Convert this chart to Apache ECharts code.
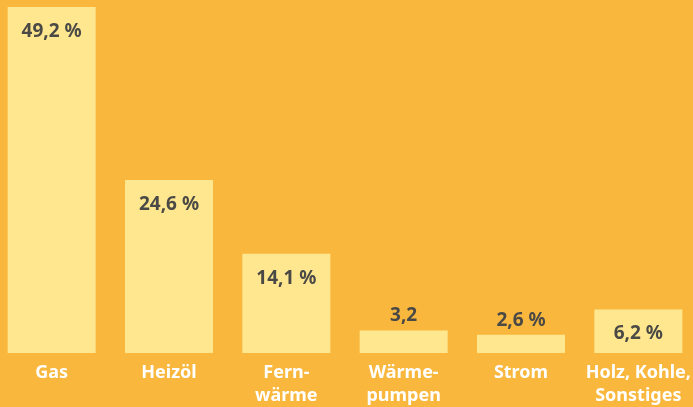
<!DOCTYPE html>
<html lang="de">
<head>
    <meta charset="UTF-8">
    <title>Beheizungsstruktur</title>
    <script src="https://cdn.jsdelivr.net/npm/echarts@6/dist/echarts.min.js"></script>
    <style>
        html, body { margin: 0; padding: 0; background: #F9B83D; overflow: hidden; }
        #main { position: absolute; left: -7px; top: 0; width: 704px; height: 407px; }
    </style>
</head>
<body>
<div id="main"></div>
<script type="text/javascript">
    // Anteile in Prozent
    var categories = ['Gas', 'Heizöl', 'Fern-\nwärme', 'Wärme-\npumpen', 'Strom', 'Holz, Kohle,\nSonstiges'];
    var values = [49.2, 24.6, 14.1, 3.2, 2.6, 6.2];
    var valueLabels = ['49,2 %', '24,6 %', '14,1 %', '3,2', '2,6 %', '6,2 %'];
    var labelOutside = [false, false, false, true, true, false];

    var myChart = echarts.init(document.getElementById('main'));

    var seriesData = [];
    for (var i = 0; i < values.length; i++) {
        var item = { value: values[i] };
        if (labelOutside[i]) {
            item.label = { position: 'top', distance: 5 };
        }
        seriesData.push(item);
    }

    var option = {
        backgroundColor: '#F9B83D',
        animation: false,
        grid: { left: 0, right: 0, top: 7, bottom: 52 },
        xAxis: {
            type: 'category',
            data: categories,
            axisLine: { show: false },
            axisTick: { show: false },
            axisLabel: {
                color: '#ffffff',
                fontFamily: 'Noto Sans',
                fontWeight: 'bold',
                fontSize: 18,
                lineHeight: 23,
                margin: 8,
                interval: 0
            }
        },
        yAxis: {
            type: 'value',
            min: 0,
            max: 49.2,
            show: false,
            splitLine: { show: false }
        },
        series: [{
            type: 'bar',
            data: seriesData,
            barWidth: 88,
            itemStyle: { color: '#FEE78E' },
            label: {
                show: true,
                position: 'insideTop',
                distance: 15,
                color: '#4a4946',
                fontFamily: 'Noto Sans',
                fontWeight: 'bold',
                fontSize: 19,
                formatter: function (p) { return valueLabels[p.dataIndex]; }
            }
        }]
    };
    myChart.setOption(option);
</script>
</body>
</html>
